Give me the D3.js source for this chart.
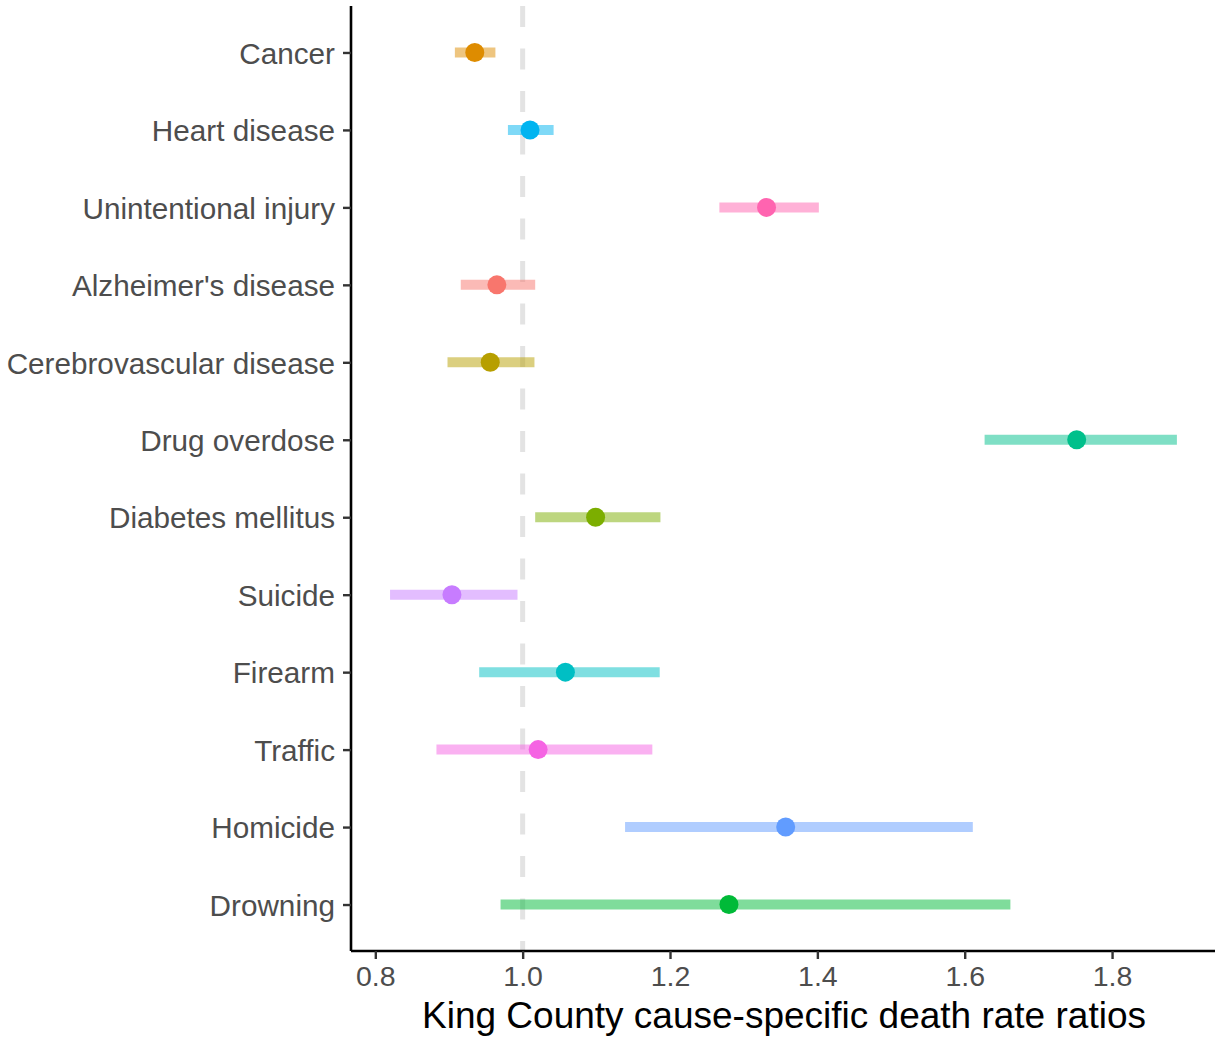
<!DOCTYPE html>
<html>
<head>
<meta charset="utf-8">
<script src="https://cdn.jsdelivr.net/npm/d3@7"></script>
<style>
  html, body { margin: 0; padding: 0; background: #fff; }
  svg { display: block; font-family: "Liberation Sans", Arial, Helvetica, sans-serif; }
</style>
</head>
<body>
<svg id="chart" width="1215" height="1042"></svg>
<script>
// Causes of death, top to bottom
const causes = [
  "Cancer", "Heart disease", "Unintentional injury", "Alzheimer's disease",
  "Cerebrovascular disease", "Drug overdose", "Diabetes mellitus", "Suicide",
  "Firearm", "Traffic", "Homicide", "Drowning"
];
// Rate ratio point estimates and 95% interval bounds
const ratio = [0.935, 1.010, 1.331, 0.965, 0.956, 1.752, 1.099, 0.904, 1.058, 1.021, 1.357, 1.280];
const lower = [0.908, 0.980, 1.267, 0.916, 0.898, 1.627, 1.017, 0.820, 0.941, 0.883, 1.139, 0.970];
const upper = [0.963, 1.042, 1.402, 1.017, 1.016, 1.888, 1.187, 0.993, 1.186, 1.176, 1.611, 1.662];
// Colour for each cause (hue palette in alphabetical order of cause)
const colors = [
  "#DE8C00", "#00B4F0", "#FF64B0", "#F8766D", "#B79F00", "#00C08B",
  "#7CAE00", "#C77CFF", "#00BFC4", "#F564E3", "#619CFF", "#00BA38"
];
const xTicks = [0.8, 1.0, 1.2, 1.4, 1.6, 1.8];
const refValue = 1.0;
const xTitle = "King County cause-specific death rate ratios";

const rows = causes.map((c, i) => ({
  cause: c, est: ratio[i], lo: lower[i], hi: upper[i], color: colors[i]
}));

const svg = d3.select("#chart");
const panel = { left: 351, right: 1213, top: 6, bottom: 951 };

const x = d3.scaleLinear()
  .domain([0.767, 1.937])
  .range([panel.left, panel.right]);

const y = d3.scalePoint()
  .domain(causes)
  .range([panel.top, panel.bottom])
  .padding(0.6);

// Reference line at a ratio of 1
svg.append("line")
  .attr("x1", x(refValue)).attr("x2", x(refValue))
  .attr("y1", panel.top).attr("y2", panel.bottom)
  .attr("stroke", "#e3e3e3")
  .attr("stroke-width", 5)
  .attr("stroke-dasharray", "21 21.5");

// Interval bars
svg.append("g").selectAll("line")
  .data(rows)
  .join("line")
  .attr("x1", d => x(d.lo))
  .attr("x2", d => x(d.hi))
  .attr("y1", d => y(d.cause))
  .attr("y2", d => y(d.cause))
  .attr("stroke", d => d.color)
  .attr("stroke-opacity", 0.5)
  .attr("stroke-width", 10);

// Point estimates
svg.append("g").selectAll("circle")
  .data(rows)
  .join("circle")
  .attr("cx", d => x(d.est))
  .attr("cy", d => y(d.cause))
  .attr("r", 9.5)
  .attr("fill", d => d.color);

// Y axis
const yAxis = svg.append("g")
  .attr("transform", `translate(${panel.left},0)`)
  .call(d3.axisLeft(y).tickSize(8).tickPadding(8));
yAxis.select(".domain")
  .attr("d", `M0,${panel.top}V${panel.bottom}`)
  .attr("stroke", "#000").attr("stroke-width", 2.6);
yAxis.selectAll(".tick line").attr("stroke", "#333").attr("stroke-width", 2.4);
yAxis.selectAll(".tick text")
  .attr("font-size", 29.7)
  .attr("fill", "#4d4d4d")
  .attr("dy", "0.36em")
  .style("font-family", "'Liberation Sans', Arial, sans-serif");

// X axis
const xAxis = svg.append("g")
  .attr("transform", `translate(0,${panel.bottom})`)
  .call(d3.axisBottom(x).tickValues(xTicks).tickFormat(d3.format(".1f")).tickSize(8).tickPadding(7));
xAxis.select(".domain")
  .attr("d", `M${panel.left},0H${panel.right + 4}`)
  .attr("stroke", "#000").attr("stroke-width", 2.6);
xAxis.selectAll(".tick line").attr("stroke", "#333").attr("stroke-width", 2.4);
xAxis.selectAll(".tick text")
  .attr("font-size", 28.5)
  .attr("fill", "#4d4d4d")
  .attr("dy", "0.71em")
  .style("font-family", "'Liberation Sans', Arial, sans-serif");

// X axis title
svg.append("text")
  .attr("x", (panel.left + panel.right) / 2 + 2)
  .attr("y", 1028)
  .attr("text-anchor", "middle")
  .attr("font-size", 37)
  .attr("fill", "#000")
  .text(xTitle);
</script>
</body>
</html>
